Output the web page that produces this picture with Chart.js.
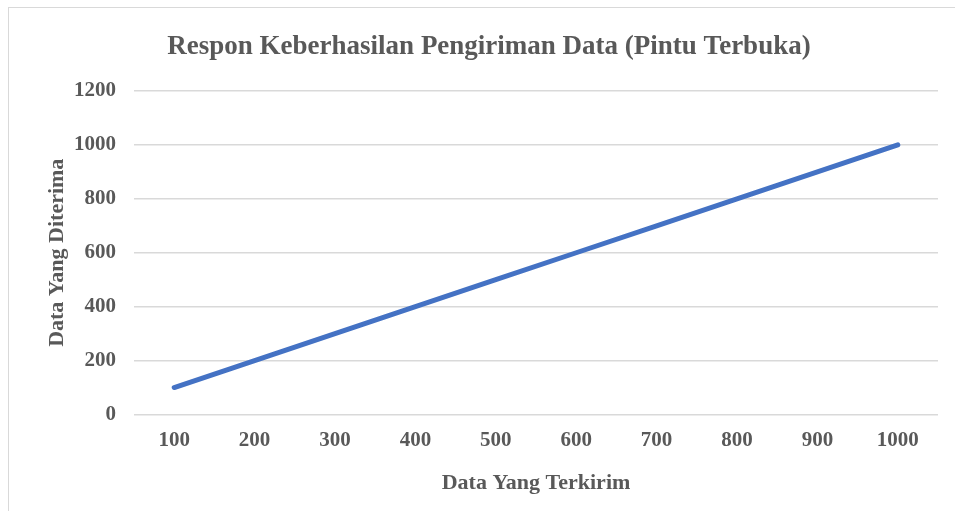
<!DOCTYPE html>
<html>
<head>
<meta charset="utf-8">
<script src="https://cdn.jsdelivr.net/npm/chart.js@4"></script>
<style>
  html, body { margin: 0; padding: 0; background: #fff; overflow: hidden; }
  #frame {
    position: absolute; left: 8px; top: 7px; width: 1000px; height: 600px;
    border: 1.5px solid #d9d9d9; box-sizing: border-box;
  }
  #wrap { position: absolute; left: 0; top: 0; width: 955px; height: 511px; }
</style>
</head>
<body>
<div id="frame"></div>
<div id="wrap"><canvas id="chart"></canvas></div>
<script>
const categories = ["100", "200", "300", "400", "500", "600", "700", "800", "900", "1000"];
const received = [100, 200, 300, 400, 500, 600, 700, 800, 900, 1000];
const yTicks = [0, 200, 400, 600, 800, 1000, 1200];

const textColor = "#595959";
const serif = "'Liberation Serif', 'Times New Roman', serif";

const ctx = document.getElementById("chart").getContext("2d");
new Chart(ctx, {
  type: "line",
  data: {
    labels: categories,
    datasets: [
      {
        label: "Data Yang Diterima",
        data: received,
        borderColor: "#4472C4",
        borderWidth: 5,
        borderCapStyle: "round",
        pointRadius: 0,
        tension: 0,
      },
    ],
  },
  options: {
    responsive: true,
    maintainAspectRatio: false,
    animation: false,
    layout: { padding: { top: 20, left: 40, right: 17, bottom: 13 } },
    plugins: {
      legend: { display: false },
      tooltip: { enabled: false },
      title: {
        display: true,
        text: "Respon Keberhasilan Pengiriman Data (Pintu Terbuka)",
        color: textColor,
        font: { family: serif, size: 27, weight: "bold" },
        padding: { top: 11, bottom: 27.6 },
      },
    },
    scales: {
      x: {
        offset: true,
        grid: { display: false, drawTicks: false },
        border: { display: false },
        ticks: {
          color: textColor,
          font: { family: serif, size: 21, weight: "bold" },
          padding: 13,
          maxRotation: 0,
        },
        title: {
          display: true,
          text: "Data Yang Terkirim",
          color: textColor,
          font: { family: serif, size: 22, weight: "bold" },
          padding: { top: 4, bottom: 1 },
        },
        afterFit: (scale) => { scale.height = 83.5; },
      },
      y: {
        min: 0,
        max: 1200,
        afterBuildTicks: (scale) => { scale.ticks = yTicks.map((v) => ({ value: v })); },
        grid: { color: "#d9d9d9", lineWidth: 1.5, drawTicks: false },
        border: { display: false },
        ticks: {
          color: textColor,
          font: { family: serif, size: 21, weight: "bold" },
          padding: 18,
          callback: (v) => String(v),
        },
        title: {
          display: true,
          text: "Data Yang Diterima",
          color: textColor,
          font: { family: serif, size: 22, weight: "bold" },
        },
        afterFit: (scale) => { scale.width = 94; },
      },
    },
  },
});
</script>
</body>
</html>
